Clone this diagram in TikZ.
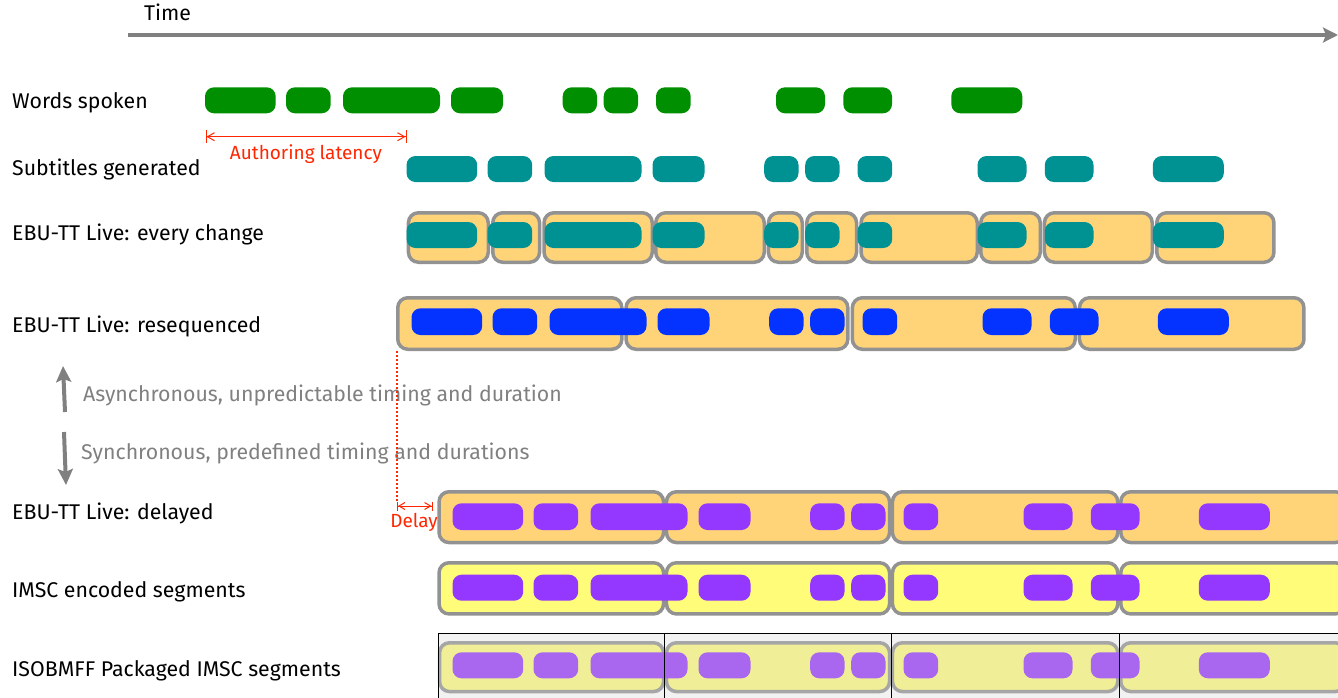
\documentclass[tikz,border=0pt]{standalone}
\usepackage{fontspec}
\setmainfont{Fira Sans}
\usetikzlibrary{arrows.meta}
\definecolor{cgreen}{HTML}{008F00}
\definecolor{cteal}{HTML}{009193}
\definecolor{cblue}{HTML}{0433FF}
\definecolor{cpurple}{HTML}{9437FF}
\definecolor{cpurplelt}{HTML}{A966EF}
\definecolor{corange}{HTML}{FFD479}
\definecolor{cyellow}{HTML}{FFFC79}
\definecolor{cyellowlt}{HTML}{F0EE96}
\definecolor{cboxgray}{HTML}{929292}
\definecolor{cboxgraylt}{HTML}{A6A6A6}
\definecolor{cbg}{HTML}{F2F2F2}
\definecolor{cred}{HTML}{FF2600}
\definecolor{ctextgray}{HTML}{808080}
\newcommand\wordbars[4]{%
  \foreach \a/\b in {205/275.7,286/330.7,343/440,451/503,562.7/597,603.7/638,656/690.7,776/825,843.3/892,951.3/1022.3}{%
    \fill[#4] (\a+#1,#2) rectangle (\b+#1,#3);}}
\newcommand\segbox[5]{\draw[#5] (#1+1.75,#3+1.75) rectangle (#2-1.75,#4-1.75);}
\begin{document}
\begin{tikzpicture}[x=1pt,y=-1pt,
  lbl/.style={anchor=base west,inner sep=0pt,font=\fontsize{21.3}{25}\selectfont},
  graylbl/.style={lbl,text=ctextgray},
  redlbl/.style={anchor=base,inner sep=0pt,text=cred,font=\fontsize{19}{23}\selectfont},
  barshape/.style={rounded corners=9pt},
  segshape/.style={rounded corners=10pt,line width=3.5pt,draw=cboxgray},
  isoshape/.style={rounded corners=10pt,line width=3.5pt,draw=cboxgraylt,fill=cyellowlt},
  grayarrow/.style={draw=ctextgray,line width=4pt,-{Stealth[length=16pt,width=15pt,inset=3pt]}},
  redarrow/.style={draw=cred,line width=1pt,{Bar[width=13pt]Straight Barb[length=7pt,width=8pt]}-{Straight Barb[length=7pt,width=8pt]Bar[width=13pt]}},
  redarrowsm/.style={draw=cred,line width=1pt,{Bar[width=9pt]Straight Barb[length=6pt,width=7pt]}-{Straight Barb[length=6pt,width=7pt]Bar[width=9pt]}}]
\useasboundingbox (0,0) rectangle (1338,697);
\clip (0,0) rectangle (1338,697);
% time axis
\node[lbl] (time) at (144,20.7) {Time};
\coordinate (t1) at (128,35);
\coordinate (t2) at (1338,35);
\draw[grayarrow,-{Stealth[length=15pt,width=15pt,inset=3pt]}] (t1) -- (t2);
% labels
\node[lbl] (l1) at (12,108.3) {Words spoken};
\node[lbl] (l2) at (12,175.7) {Subtitles generated};
\node[lbl] (l3) at (12,240) {EBU-TT Live: every change};
\node[lbl] (l4) at (12,332) {EBU-TT Live: resequenced};
\node[lbl] (l5) at (12,519) {EBU-TT Live: delayed};
\node[lbl] (l6) at (12,597) {IMSC encoded segments};
\node[lbl] (l7) at (12,676) {ISOBMFF Packaged IMSC segments};
\node[graylbl] (async) at (83,401) {Asynchronous, unpredictable timing and duration};
\node[graylbl] (sync) at (81,459) {Synchronous, predefined timing and durations};
\coordinate (ua1) at (65,412);
\coordinate (ua2) at (63,366);
\coordinate (da1) at (64,432);
\coordinate (da2) at (66,485);
\draw[grayarrow] (ua1) -- (ua2);
\draw[grayarrow] (da1) -- (da2);
% words spoken
\wordbars{0}{87.3}{113.3}{cgreen,barshape}
% authoring latency
\coordinate (al1) at (205.5,136.7);
\coordinate (al2) at (406.5,136.7);
\draw[redarrow] (al1) -- (al2);
\node[redlbl] (altxt) at (306,159.3) {Authoring latency};
% subtitles generated
\wordbars{201.5}{156}{182}{cteal,barshape}
% every change
\foreach \p/\q in {406.7/490,491/541.3,542.3/654,654/766,766.7/804,805/858.3,859.3/979,979/1042,1042.7/1154,1155/1275.7}{\segbox{\p}{\q}{211}{264}{segshape,fill=corange}}
\wordbars{201.5}{222}{248}{cteal,barshape}
% resequenced
\foreach \p/\q in {396/623.6,624.3/849.6,850.6/1077,1077.7/1305.7}{\segbox{\p}{\q}{296}{351}{segshape,fill=corange}}
\wordbars{206.5}{308.3}{335}{cblue,barshape}
% delay
\coordinate (dl0) at (397,351);
\coordinate (dl1) at (397,506);
\coordinate (dl2) at (432.5,506);
\draw[cred,line width=1.3pt,dash pattern=on 1.5pt off 2.5pt] (dl0) -- ([yshift=4pt]dl1);
\draw[redarrowsm] (dl1) -- (dl2);
\node[redlbl] (dltxt) at (414,527.7) {Delay};
% delayed
\foreach \p/\q in {437.3/665.3,664.7/891.3,890.7/1119.5,1119/1347}{\segbox{\p}{\q}{490}{544.3}{segshape,fill=corange}}
\wordbars{247.5}{503.3}{530}{cpurple,barshape}
% IMSC
\foreach \p/\q in {437.3/665.3,664.7/891.3,890.7/1119.5,1119/1347}{\segbox{\p}{\q}{561}{615.7}{segshape,fill=cyellow}}
\wordbars{247.5}{574.7}{600.7}{cpurple,barshape}
% ISOBMFF
\fill[cbg] (438.3,633) rectangle (1345,700);
\foreach \p/\q in {437.8/665.3,664.7/891.3,890.7/1119.5,1119/1347}{\segbox{\p}{\q}{641}{693.3}{isoshape}}
\wordbars{247.5}{652.3}{678.3}{cpurplelt,barshape}
\foreach \p/\q in {438.3/664.7,664.7/891.3,891.3/1119,1119/1346}{\draw[black,line width=1pt] (\p,700) rectangle (\q,633);}
\end{tikzpicture}
\end{document}
